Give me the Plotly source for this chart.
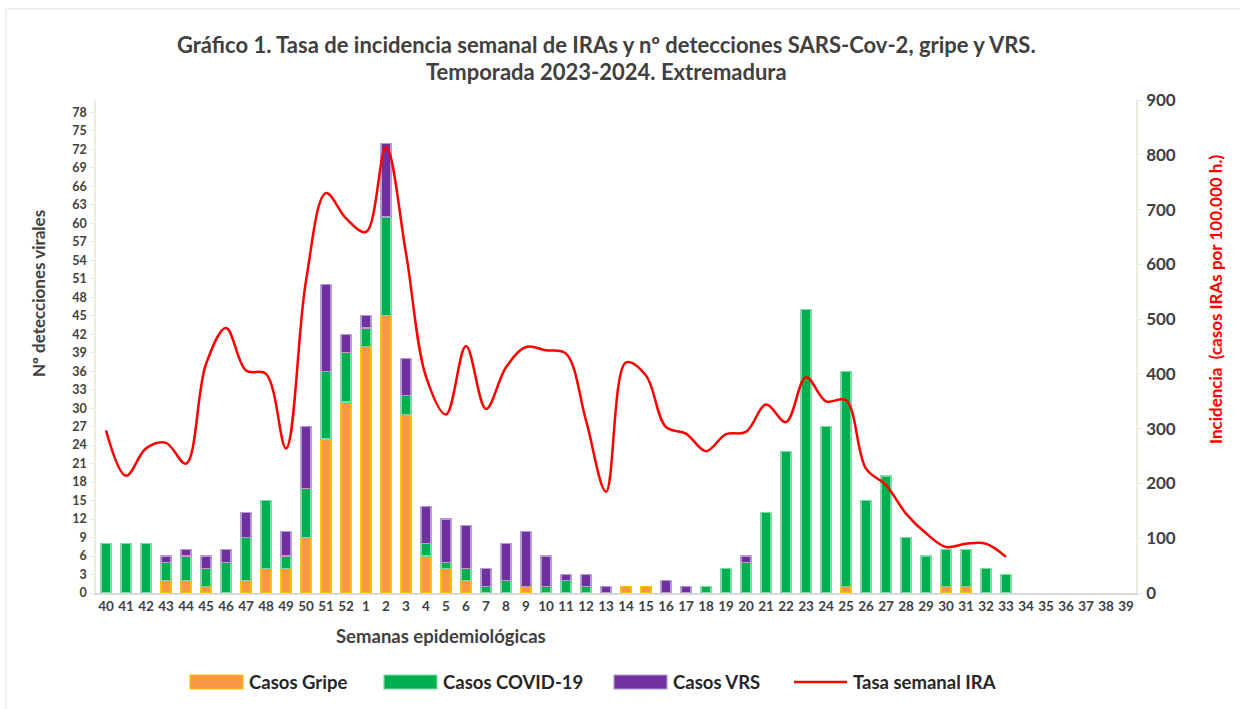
import plotly.graph_objects as go

# Semanas epidemiológicas (temporada 2023-2024)
semanas = [str(s) for s in list(range(40, 53)) + list(range(1, 40))]

# Nº detecciones por semana (40..52, 1..39)
gripe = [0, 0, 0, 2, 2, 1, 0, 2, 4, 4, 9, 25, 31,
         40, 45, 29, 6, 4, 2, 0, 0, 1, 0, 0, 0, 0, 1, 1, 0, 0, 0, 0, 0,
         0, 0, 0, 0, 1, 0, 0, 0, 0, 1, 1, 0, 0, 0, 0, 0, 0, 0, 0]
covid = [8, 8, 8, 3, 4, 3, 5, 7, 11, 2, 8, 11, 8,
         3, 16, 3, 2, 1, 2, 1, 2, 0, 1, 2, 1, 0, 0, 0, 0, 0, 1, 4, 5,
         13, 23, 46, 27, 35, 15, 19, 9, 6, 6, 6, 4, 3, 0, 0, 0, 0, 0, 0]
vrs = [0, 0, 0, 1, 1, 2, 2, 4, 0, 4, 10, 14, 3,
       2, 12, 6, 6, 7, 7, 3, 6, 9, 5, 1, 2, 1, 0, 0, 2, 1, 0, 0, 1,
       0, 0, 0, 0, 0, 0, 0, 0, 0, 0, 0, 0, 0, 0, 0, 0, 0, 0, 0]

# Tasa semanal IRA (casos por 100.000 h.), semanas 40 a 33
tasa = [297, 214, 264, 274, 236, 418, 484, 406, 400, 264, 570, 730, 684,
        659, 814, 620, 395, 326, 451, 336, 412, 449, 443, 437, 315, 185,
        421, 397, 303, 291, 259, 290, 294, 344, 312, 394, 350, 352, 227,
        197, 145, 109, 84, 90, 90, 66]

fuente = 'Lato'
gris = '#404040'


def sin_ceros(vals):
    # las semanas sin casos no dibujan barra
    return [v if v else None for v in vals]


fig = go.Figure()

series = [
    ('Casos Gripe', gripe, '#F79646', '#FFC000'),
    ('Casos COVID-19', covid, '#00B050', '#7FD8A6'),
    ('Casos VRS', vrs, '#7030A0', '#B79BD0'),
]
for nombre, vals, color, borde in series:
    fig.add_trace(go.Bar(x=semanas, y=sin_ceros(vals), name=nombre, showlegend=False,
                         marker=dict(color=color, line=dict(color=borde, width=1.2))))

fig.add_trace(go.Scatter(x=semanas[:len(tasa)], y=tasa, name='Tasa semanal IRA',
                         mode='lines', yaxis='y2', showlegend=False,
                         line=dict(color='#FF0000', width=2.5, shape='spline', smoothing=1.0)))

W, H = 1240, 709
ml, mr, mt, mb = 96, 104, 100, 116
pw, ph = W - ml - mr, H - mt - mb


def px_x(x):
    return (x - ml) / pw


def px_y(y):
    return (H - mb - y) / ph


shapes = []
annotations = []

# borde del gráfico (sólo se ven el lado superior y el izquierdo)
shapes.append(dict(type='rect', xref='paper', yref='paper',
                   x0=px_x(6), x1=px_x(W + 20), y0=px_y(H + 20), y1=px_y(9),
                   line=dict(color='#EEECE1', width=1.5), fillcolor='rgba(0,0,0,0)', layer='below'))

# leyenda dibujada a mano (símbolos anchos como en el original)
leyenda_y = 682
items = [(190, 'Casos Gripe', 'bar', '#F79646', '#FFC000'),
         (384, 'Casos COVID-19', 'bar', '#00B050', '#7FD8A6'),
         (614, 'Casos VRS', 'bar', '#7030A0', '#B79BD0'),
         (794, 'Tasa semanal IRA', 'line', '#FF0000', '#FF0000')]

for x0, texto, tipo, color, borde in items:
    if tipo == 'bar':
        shapes.append(dict(type='rect', xref='paper', yref='paper',
                           x0=px_x(x0), x1=px_x(x0 + 53),
                           y0=px_y(leyenda_y + 7), y1=px_y(leyenda_y - 7),
                           fillcolor=color, line=dict(color=borde, width=1.2)))
    else:
        shapes.append(dict(type='line', xref='paper', yref='paper',
                           x0=px_x(x0), x1=px_x(x0 + 53),
                           y0=px_y(leyenda_y), y1=px_y(leyenda_y),
                           line=dict(color=color, width=2.5)))
    annotations.append(dict(text='<b>' + texto + '</b>', xref='paper', yref='paper',
                            x=px_x(x0 + 57), y=px_y(leyenda_y), xanchor='left', yanchor='middle',
                            showarrow=False, font=dict(size=18.5, color='#262626', family=fuente)))

# título en dos líneas
titulo = ['Gráfico 1. Tasa de incidencia semanal de IRAs y nº detecciones SARS-Cov-2, gripe y VRS.',
          'Temporada 2023-2024. Extremadura']
for linea, yy in zip(titulo, [45, 71]):
    annotations.append(dict(text='<b>' + linea + '</b>', xref='paper', yref='paper',
                            x=px_x(606), y=px_y(yy), xanchor='center', yanchor='middle',
                            showarrow=False, font=dict(size=22, color=gris, family=fuente)))

# títulos de ejes
annotations.append(dict(text='<b>Nº detecciones virales</b>', xref='paper', yref='paper',
                        x=px_x(38), y=px_y(294), xanchor='center', yanchor='middle', textangle=-90,
                        showarrow=False, font=dict(size=17, color=gris, family=fuente)))
annotations.append(dict(text='<b>Incidencia  (casos IRAs por 100.000 h.)</b>', xref='paper', yref='paper',
                        x=px_x(1215), y=px_y(300), xanchor='center', yanchor='middle', textangle=-90,
                        showarrow=False, font=dict(size=17, color='#FF0000', family=fuente)))
annotations.append(dict(text='<b>Semanas epidemiológicas</b>', xref='paper', yref='paper',
                        x=px_x(441), y=px_y(636), xanchor='center', yanchor='middle',
                        showarrow=False, font=dict(size=18.5, color=gris, family=fuente)))

fig.update_layout(
    width=W, height=H,
    barmode='stack', bargap=0.5,
    plot_bgcolor='white', paper_bgcolor='white',
    font=dict(family=fuente, color=gris),
    margin=dict(l=ml, r=mr, t=mt, b=mb, autoexpand=False),
    xaxis=dict(type='category', categoryorder='array', categoryarray=semanas,
               showline=True, linecolor='#D9D9D9', linewidth=1.5,
               tickfont=dict(size=13.5, color=gris, family=fuente, weight='bold'),
               ticks='', showgrid=False),
    yaxis=dict(range=[0, 80], tickmode='array', tickvals=list(range(0, 79, 3)),
               showline=True, linecolor='#EEECE1', linewidth=1.5,
               ticks='outside', tickcolor='#EEECE1', ticklen=5,
               showgrid=False, zeroline=False,
               tickfont=dict(size=12.5, color=gris, family=fuente, weight='bold')),
    yaxis2=dict(range=[0, 900], dtick=100, overlaying='y', side='right',
                showline=True, linecolor='#EEECE1', linewidth=1.5,
                ticks='outside', tickcolor='#EEECE1', ticklen=5,
                showgrid=False, zeroline=False,
                tickfont=dict(size=17, color=gris, family=fuente, weight='bold')),
    shapes=shapes,
    annotations=annotations,
)

# sin el margen por defecto del <body>, para que la figura ocupe toda la ventana
fig.write_html('out.html', config={'displayModeBar': False},
               post_script="document.body.style.margin = '0';")
